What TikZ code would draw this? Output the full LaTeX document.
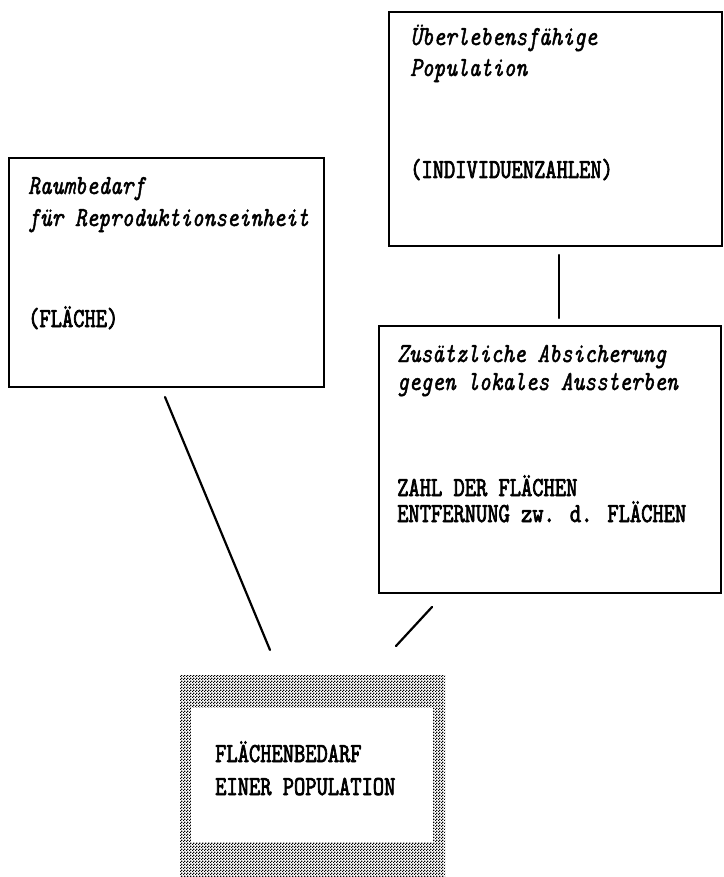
\documentclass[tikz,border=0pt]{standalone}
\usepackage{fontspec}
\usetikzlibrary{patterns}
\newfontfamily\twi{lmmono10-italic.otf}[FakeStretch=0.81,FakeBold=1.5]
\newfontfamily\twb{lmmono10-regular.otf}[FakeStretch=0.78,FakeBold=2.5]
\pgfdeclarepatternformonly{halftone}{\pgfpointorigin}{\pgfpoint{3pt}{3pt}}{\pgfpoint{3pt}{3pt}}{%
  \pgfpathrectangle{\pgfpointorigin}{\pgfpoint{1.55pt}{1.55pt}}%
  \pgfpathrectangle{\pgfpoint{1.5pt}{1.5pt}}{\pgfpoint{1.55pt}{1.55pt}}%
  \pgfusepath{fill}}
\tikzset{
  box/.style={draw=black, line width=1.8pt, fill=white, anchor=north west, inner sep=0pt},
  shade/.style={pattern=halftone, pattern color=black, anchor=north west, inner sep=0pt},
  inbox/.style={fill=white, anchor=north west, inner sep=0pt},
  ital/.style={anchor=base west, inner sep=0pt, font=\twi\fontsize{27.5}{27.5}\selectfont},
  upr/.style={anchor=base west, inner sep=0pt, font=\twb\fontsize{27.5}{27.5}\selectfont},
  conn/.style={line width=2.2pt, line cap=round}
}
\begin{document}
\begin{tikzpicture}[x=1pt,y=-1pt]
\useasboundingbox (0,0) rectangle (723,877);
% boxes
\node[box, minimum width=315pt, minimum height=229pt] (A) at (8,157) {};
\node[box, minimum width=333pt, minimum height=234pt] (B) at (388,11) {};
\node[box, minimum width=342pt, minimum height=267pt] (C) at (378,325) {};
\node[shade, minimum width=265pt, minimum height=201pt] (D) at (180,675) {};
\node[inbox, minimum width=242pt, minimum height=134pt] (Din) at (191,708) {};
% texts
\node[ital] (a1) at (28,194) {Raumbedarf};
\node[ital] (a2) at (28,226) {für Reproduktionseinheit};
\node[upr] (a3) at (28,327) {(FLÄCHE)};
\node[ital] (b1) at (410,45) {Überlebensfähige};
\node[ital] (b2) at (410,76) {Population};
\node[upr] (b3) at (410,178) {(INDIVIDUENZAHLEN)};
\node[ital] (c1) at (397,362) {Zusätzliche Absicherung};
\node[ital] (c2) at (397,390) {gegen lokales Aussterben};
\node[upr] (c3) at (397,496) {ZAHL DER FLÄCHEN};
\node[upr] (c4) at (397,522) {ENTFERNUNG zw. d. FLÄCHEN};
\node[upr] (d1) at (215,762) {FLÄCHENBEDARF};
\node[upr] (d2) at (215,795) {EINER POPULATION};
% connector ends
\coordinate (bc1) at (559,255);
\coordinate (bc2) at (559,318);
\coordinate (ad1) at (165,397);
\coordinate (ad2) at (270,650);
\coordinate (cd1) at (432,607);
\coordinate (cd2) at (396,646);
\draw[conn] (bc1) -- (bc2);
\draw[conn] (ad1) -- (ad2);
\draw[conn] (cd1) -- (cd2);
\end{tikzpicture}
\end{document}
